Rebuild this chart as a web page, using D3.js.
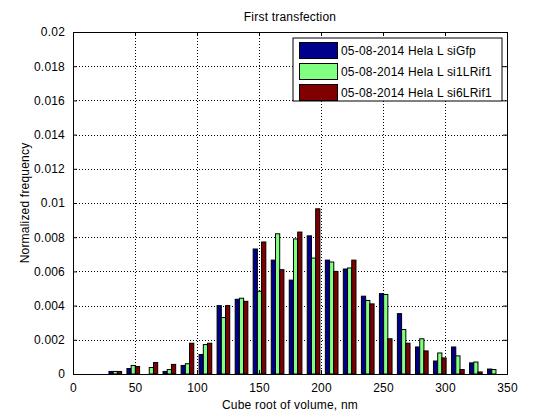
<!DOCTYPE html>
<html>
<head>
<meta charset="utf-8">
<script src="https://cdn.jsdelivr.net/npm/d3@7"></script>
<style>
  body { margin: 0; background: #fff; }
  text { font-family: "Liberation Sans", Arial, sans-serif; font-size: 12px; fill: #000; letter-spacing: 0.2px; }
</style>
</head>
<body>
<div id="chart"></div>
<script>
// bin centres
const binCenters = [34.1, 48.6, 63.2, 77.7, 92.3, 106.8, 121.3, 135.9, 150.4, 165.0, 179.5,
  194.0, 208.6, 223.1, 237.7, 252.2, 266.7, 281.3, 295.8, 310.4, 324.9, 339.4];

const seriesNames = ["05-08-2014 Hela L siGfp", "05-08-2014 Hela L si1LRif1", "05-08-2014 Hela L si6LRif1"];

const siGfp = [0.00015, 0.00032, 0, 0.00015, 0.0005, 0.00114, 0.0040, 0.00437, 0.00731, 0.00666, 0.00549,
  0.00808, 0.00666, 0.00614, 0.00455, 0.0047, 0.00353, 0.00158, 0.00076, 0.00158, 0.00065, 0.00029];
const si1LRif1 = [0.00015, 0.0005, 0.00038, 0.00026, 0.0006, 0.00172, 0.0033, 0.00443, 0.00484, 0.0082, 0.0079,
  0.00678, 0.00655, 0.0062, 0.0043, 0.00465, 0.0026, 0.00206, 0.00123, 0.00106, 0.0007, 0.00026];
const si6LRif1 = [0.00015, 0.00044, 0.00067, 0.00056, 0.0018, 0.0018, 0.0040, 0.00425, 0.00772, 0.0061, 0.0083,
  0.00966, 0.0060, 0.00666, 0.0041, 0.00206, 0.0018, 0.00135, 0.00094, 0.00026, 0.00012, 0];

const xTicks = [0, 50, 100, 150, 200, 250, 300, 350];
const yTicks = [0, 0.002, 0.004, 0.006, 0.008, 0.01, 0.012, 0.014, 0.016, 0.018, 0.02];

const colors = ["#00008f", "#80ff80", "#800000"];
const series = [siGfp, si1LRif1, si6LRif1];

const width = 560, height = 420;
const mLeft = 73, mRight = 507, mTop = 32, mBottom = 374;

const x = d3.scaleLinear().domain([0, 350]).range([mLeft, mRight]);
const y = d3.scaleLinear().domain([0, 0.02]).range([mBottom, mTop]);
const barW = 3.4; // data units

const svg = d3.select("#chart").append("svg")
    .attr("width", width)
    .attr("height", height);

// grid
const grid = svg.append("g").attr("stroke", "#000").attr("stroke-dasharray", "1,2").attr("shape-rendering", "crispEdges");
grid.selectAll(".gx").data(xTicks.slice(1, -1)).join("line")
    .attr("x1", d => Math.round(x(d)) + 0.5).attr("x2", d => Math.round(x(d)) + 0.5)
    .attr("y1", mTop).attr("y2", mBottom);
grid.selectAll(".gy").data(yTicks.slice(1, -1)).join("line")
    .attr("y1", d => Math.round(y(d)) + 0.5).attr("y2", d => Math.round(y(d)) + 0.5)
    .attr("x1", mLeft).attr("x2", mRight);

// bars
series.forEach((vals, si) => {
  svg.append("g").selectAll("rect")
    .data(vals.map((v, i) => ({c: binCenters[i], v})).filter(d => d.v > 0))
    .join("rect")
      .attr("x", d => x(d.c + (si - 1.5) * barW))
      .attr("width", x(barW) - x(0))
      .attr("y", d => y(d.v))
      .attr("height", d => y(0) - y(d.v))
      .attr("fill", colors[si])
      .attr("stroke", "#000")
      .attr("stroke-width", 1);
});

// axes (ticks inside, MATLAB style)
const xAxis = svg.append("g").attr("transform", `translate(0,${mBottom})`)
    .call(d3.axisBottom(x).tickValues(xTicks).tickSize(-4).tickPadding(9).tickFormat(d3.format("d")));
const xAxisTop = svg.append("g").attr("transform", `translate(0,${mTop})`)
    .call(d3.axisTop(x).tickValues(xTicks).tickSize(-4).tickFormat(""));
const yAxis = svg.append("g").attr("transform", `translate(${mLeft},0)`)
    .call(d3.axisLeft(y).tickValues(yTicks).tickSize(-4).tickPadding(8).tickFormat(d => d === 0 ? "0" : d3.format("~g")(d)));
const yAxisRight = svg.append("g").attr("transform", `translate(${mRight},0)`)
    .call(d3.axisRight(y).tickValues(yTicks).tickSize(-4).tickFormat(""));

[xAxis, xAxisTop, yAxis, yAxisRight].forEach(g => {
  g.selectAll("path").attr("stroke", "#000");
  g.selectAll("line").attr("stroke", "#000");
  g.attr("font-size", null).attr("font-family", null);
});

// title and labels
svg.append("text").attr("x", (mLeft + mRight) / 2).attr("y", 21)
    .attr("text-anchor", "middle").text("First transfection");
svg.append("text").attr("x", (mLeft + mRight) / 2).attr("y", 409)
    .attr("text-anchor", "middle").text("Cube root of volume, nm");
svg.append("text")
    .attr("transform", `translate(29,${(mTop + mBottom) / 2}) rotate(-90)`)
    .attr("text-anchor", "middle").text("Normalized frequency");

// legend
const lg = svg.append("g").attr("transform", "translate(293,38)");
lg.append("rect").attr("width", 209).attr("height", 63)
    .attr("fill", "#fff").attr("stroke", "#000");
seriesNames.forEach((name, i) => {
  lg.append("rect").attr("x", 6.5).attr("y", 4.5 + i * 21).attr("width", 38).attr("height", 16)
      .attr("fill", colors[i]).attr("stroke", "#000");
  lg.append("text").attr("x", 48).attr("y", 17 + i * 21).text(name);
});
</script>
</body>
</html>
